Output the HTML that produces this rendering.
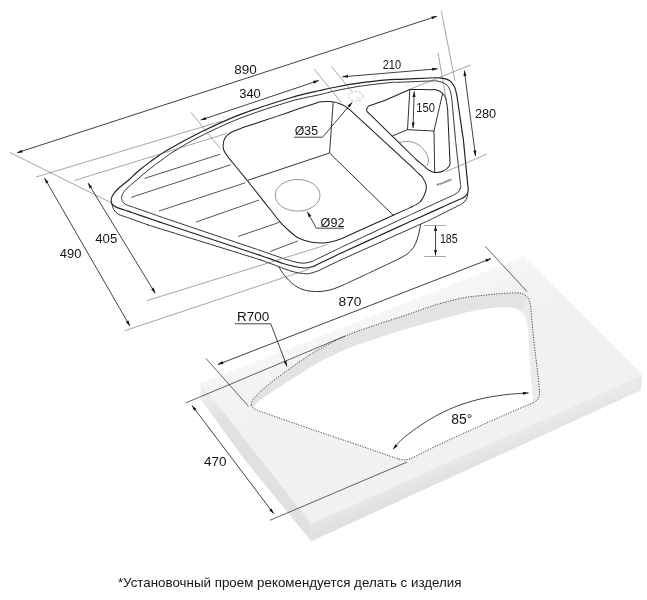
<!DOCTYPE html>
<html lang="ru">
<head>
<meta charset="utf-8">
<title>Схема мойки</title>
<style>
html,body{margin:0;padding:0;background:#fff;}
body{width:647px;height:600px;overflow:hidden;}
svg{display:block;font-family:"Liberation Sans",Arial,sans-serif;filter:grayscale(1);}
</style>
</head>
<body>
<svg width="647" height="600" viewBox="0 0 647 600">
<rect width="647" height="600" fill="#ffffff"/>
<defs>
<linearGradient id="gTop" gradientUnits="userSpaceOnUse" x1="430" y1="290" x2="455" y2="354">
<stop offset="0" stop-color="#f7f7f7"/><stop offset="0.35" stop-color="#f3f3f3"/><stop offset="1" stop-color="#f1f1f1"/>
</linearGradient>
<linearGradient id="gFront" gradientUnits="userSpaceOnUse" x1="470" y1="452" x2="477" y2="469">
<stop offset="0" stop-color="#e9e9e9"/><stop offset="1" stop-color="#e0e0e0"/>
</linearGradient>
<linearGradient id="gLeft" gradientUnits="userSpaceOnUse" x1="201" y1="386" x2="226" y2="418">
<stop offset="0" stop-color="#efefef"/><stop offset="1" stop-color="#e1e1e1"/>
</linearGradient>
</defs>
<path d="M200.6,383.1 L523.6,256.3 L642.5,375 L311.25,523.75Z" fill="url(#gTop)" stroke="none" stroke-width="1" />
<path d="M311.25,523.75 L642.5,375 L640.5,390.5 L311.25,541.25Z" fill="url(#gFront)" stroke="none" stroke-width="1" />
<path d="M200.6,383.1 L311.25,523.75 L311.25,541.25 L244.8,460 L201.2,400 L200.6,393.75Z" fill="url(#gLeft)" stroke="none" stroke-width="1" />
<path d="M251.1,404.6 C251.4,403.78 251.47,401.75 252.9,399.7 C254.33,397.65 256.5,395.32 259.7,392.3 C262.9,389.28 268.48,384.52 272.1,381.6 C275.72,378.68 278.5,376.93 281.4,374.8 C284.3,372.67 284.02,372.58 289.5,368.8 C294.98,365.02 305.02,357.57 314.3,352.1 C323.58,346.63 334.9,340.53 345.2,336 C355.5,331.47 365.67,328.48 376.1,324.9 C386.53,321.32 397.88,317.85 407.8,314.5 C417.72,311.15 426.32,307.58 435.6,304.8 C444.88,302.02 456.1,299.32 463.5,297.8 C470.9,296.28 474.17,296.37 480,295.7 C485.83,295.03 492.32,294.27 498.5,293.8 C504.68,293.33 512.77,292.75 517.1,292.9 C521.43,293.05 522.48,293.47 524.5,294.7 C526.52,295.93 528.12,297.67 529.2,300.3 C530.28,302.93 530.23,303.88 531,310.5 C531.77,317.12 532.52,328.08 533.8,340 C535.08,351.92 537.77,372.88 538.7,382 C539.63,391.12 539.58,391.75 539.4,394.7 C539.22,397.65 538.62,398.35 537.6,399.7 C536.58,401.05 537.12,401 533.3,402.8 C529.48,404.6 520.32,408.1 514.7,410.5 C509.08,412.9 505.55,414.55 499.6,417.2 C493.65,419.85 486.55,423 479,426.4 C471.45,429.8 462.47,433.83 454.3,437.6 C446.13,441.37 435.7,446.25 430,449 C424.3,451.75 423.45,452.47 420.1,454.1 C416.75,455.73 412.53,457.83 409.9,458.8 C407.27,459.77 405.23,459.72 404.3,459.9 L398,458.9 L360,445.7 L300,425.3 L260,411.3 L254,408.7 L251.6,406.5 L251.1,404.6Z" fill="#e3e3e3" stroke="none" stroke-width="1" />
<path d="M527.5,296.5 L531,310.5 L533.8,340 L538.7,382 L539.4,394.7 L537.6,399.7 L533.3,402.8 L530,398 L526,330 L521,311Z" fill="#ebebeb" stroke="none" stroke-width="1" />
<path d="M254.2,408.6 C254.23,408.17 253.85,407 254.4,406 C254.95,405 255.58,404.27 257.5,402.6 C259.42,400.93 261.42,399.15 265.9,396 C270.38,392.85 278.83,387.27 284.4,383.7 C289.97,380.13 294.32,377.72 299.3,374.6 C304.28,371.48 306.65,369.17 314.3,365 C321.95,360.83 334.9,354.02 345.2,349.6 C355.5,345.18 365.67,342 376.1,338.5 C386.53,335 397.15,331.77 407.8,328.6 C418.45,325.43 430,322.28 440,319.5 C450,316.72 460.3,313.67 467.8,311.9 C475.3,310.13 479.63,309.67 485,308.9 C490.37,308.13 494.97,307.43 500,307.3 C505.03,307.17 511.42,307.1 515.2,308.1 C518.98,309.1 520.83,311.05 522.7,313.3 C524.57,315.55 525.42,317.15 526.4,321.6 C527.38,326.05 527.8,330.05 528.6,340 C529.4,349.95 530.53,372.18 531.2,381.3 C531.87,390.42 532.25,391.12 532.6,394.7 C532.95,398.28 533.18,401.45 533.3,402.8 L533.3,402.8 C530.2,404.08 520.32,408.1 514.7,410.5 C509.08,412.9 505.55,414.55 499.6,417.2 C493.65,419.85 486.55,423 479,426.4 C471.45,429.8 462.47,433.83 454.3,437.6 C446.13,441.37 435.7,446.25 430,449 C424.3,451.75 423.45,452.47 420.1,454.1 C416.75,455.73 412.53,457.83 409.9,458.8 C407.27,459.77 406.28,459.88 404.3,459.9 C402.32,459.92 399.05,459.07 398,458.9 L398,458.9 L360,445.7 L300,425.3 L260,411.3 L254,408.7 L251.6,406.5 L251.1,404.6Z" fill="#ffffff" stroke="none" stroke-width="1" />
<path d="M251.1,404.6 C251.4,403.78 251.47,401.75 252.9,399.7 C254.33,397.65 256.5,395.32 259.7,392.3 C262.9,389.28 268.48,384.52 272.1,381.6 C275.72,378.68 278.5,376.93 281.4,374.8 C284.3,372.67 284.02,372.58 289.5,368.8 C294.98,365.02 305.02,357.57 314.3,352.1 C323.58,346.63 334.9,340.53 345.2,336 C355.5,331.47 365.67,328.48 376.1,324.9 C386.53,321.32 397.88,317.85 407.8,314.5 C417.72,311.15 426.32,307.58 435.6,304.8 C444.88,302.02 456.1,299.32 463.5,297.8 C470.9,296.28 474.17,296.37 480,295.7 C485.83,295.03 492.32,294.27 498.5,293.8 C504.68,293.33 512.77,292.75 517.1,292.9 C521.43,293.05 522.48,293.47 524.5,294.7 C526.52,295.93 528.12,297.67 529.2,300.3 C530.28,302.93 530.23,303.88 531,310.5 C531.77,317.12 532.52,328.08 533.8,340 C535.08,351.92 537.77,372.88 538.7,382 C539.63,391.12 539.58,391.75 539.4,394.7 C539.22,397.65 538.62,398.35 537.6,399.7 C536.58,401.05 534.02,402.28 533.3,402.8" fill="none" stroke="#333" stroke-width="0.9" stroke-dasharray="1.2 1.4"/>
<path d="M533.3,402.8 C530.2,404.08 520.32,408.1 514.7,410.5 C509.08,412.9 505.55,414.55 499.6,417.2 C493.65,419.85 486.55,423 479,426.4 C471.45,429.8 462.47,433.83 454.3,437.6 C446.13,441.37 435.7,446.25 430,449 C424.3,451.75 423.45,452.47 420.1,454.1 C416.75,455.73 412.53,457.83 409.9,458.8 C407.27,459.77 406.28,459.88 404.3,459.9 C402.32,459.92 399.05,459.07 398,458.9" fill="none" stroke="#333" stroke-width="0.9" stroke-dasharray="1.2 1.4"/>
<path d="M398,458.9 L360,445.7 L300,425.3 L260,411.3 L254,408.7 L251.6,406.5 L251.1,404.6" fill="none" stroke="#333" stroke-width="0.9" stroke-dasharray="1.2 1.4"/>
<path d="M278.5,266.5 C279.53,268.03 282.22,272.72 284.7,275.7 C287.18,278.68 290.52,282.13 293.4,284.4 C296.28,286.67 299.07,288.17 302,289.3 C304.93,290.43 308,290.83 311,291.2 C314,291.57 317,291.67 320,291.5 C323,291.33 326.17,290.85 329,290.2 C331.83,289.55 334.47,288.53 337,287.6 C339.53,286.67 342.25,285.45 344.2,284.6 C346.15,283.75 345.18,284.14 348.73,282.48 C352.27,280.81 361.93,276.29 365.47,274.62 C369.02,272.96 368.49,273.21 370,272.5 C371.51,271.79 372.2,271.47 374.52,270.37 C376.85,269.28 381.65,267.02 383.98,265.93 C386.3,264.83 385.26,265.39 388.5,263.8 C391.74,262.21 399.68,258.57 403.4,256.4 C407.12,254.23 408.75,252.97 410.8,250.8 C412.85,248.63 414.37,246.28 415.7,243.4 C417.03,240.52 417.97,236.68 418.8,233.5 C419.63,230.32 420.38,225.83 420.7,224.3" fill="none" stroke="#202020" stroke-width="0.92" />
<path d="M111.6,203.2 C111.98,204.28 112.73,207.85 113.9,209.7 C115.07,211.55 116.28,212.98 118.6,214.3 C120.92,215.62 125.48,216.77 127.8,217.6 C130.12,218.43 129.88,218.36 132.5,219.31 C135.12,220.25 140.88,222.35 143.5,223.29 C146.12,224.24 146.62,224.47 148.2,225 C149.78,225.53 143.66,223.59 152.98,226.48 C162.29,229.37 187.06,237.06 204.1,242.35 C221.14,247.64 245.91,255.33 255.22,258.22 C264.54,261.11 258.42,259.17 260,259.7 C261.58,260.23 262.39,260.58 264.69,261.42 C266.99,262.27 271.51,263.93 273.81,264.78 C276.11,265.62 275.47,265.4 278.5,266.5 C281.53,267.6 287.87,270.23 292,271.4 C296.13,272.57 300.4,273.15 303.3,273.5 C306.2,273.85 306.93,273.95 309.4,273.5 C311.87,273.05 315.9,271.61 318.1,270.8 C320.3,269.99 319.71,270.03 322.61,268.64 C325.51,267.25 332.59,263.85 335.49,262.46 C338.39,261.07 338.49,261 340,260.3 C341.51,259.6 337.08,261.61 344.56,258.25 C352.05,254.89 371.45,246.18 384.9,240.15 C398.35,234.12 417.75,225.41 425.24,222.05 C432.72,218.69 428.29,220.71 429.8,220 C431.31,219.29 429.66,220.07 434.27,217.76 C438.87,215.45 452.83,208.45 457.43,206.14 C462.04,203.83 460.44,204.99 461.9,203.9 C463.36,202.81 465.22,201.35 466.2,199.6 C467.18,197.85 467.53,194.43 467.8,193.4" fill="none" stroke="#202020" stroke-width="0.92" />
<path d="M111.1,200.4 C111.18,198.77 111.75,196.82 113,194.8 C114.25,192.78 115.97,190.77 118.6,188.3 C121.23,185.83 125.73,182.68 128.8,180 C131.87,177.32 133.57,175.13 137,172.2 C140.43,169.27 144.45,166 149.4,162.4 C154.35,158.8 158.27,155.58 166.7,150.6 C175.13,145.62 187.78,138.5 200,132.5 C212.22,126.5 225,120.35 240,114.6 C255,108.85 276.67,102.02 290,98 C303.33,93.98 312.5,92.3 320,90.5 C327.5,88.7 328.33,88.47 335,87.2 C341.67,85.93 350.83,84.15 360,82.9 C369.17,81.65 383.33,80.3 390,79.7 C396.67,79.1 393.33,79.58 400,79.3 C406.67,79.02 423.4,78.23 430,78 C436.6,77.77 436.37,77.5 439.6,77.9 C442.83,78.3 446.93,78.95 449.4,80.4 C451.87,81.85 453.15,84.03 454.4,86.6 C455.65,89.17 456.36,93.44 456.9,95.8 C457.44,98.16 457.09,97.06 457.63,100.75 C458.17,104.43 459.31,112.18 460.15,117.9 C460.99,123.62 462.13,131.37 462.67,135.05 C463.21,138.74 463.2,138.35 463.4,140 C463.6,141.65 463.49,140.94 463.88,144.98 C464.27,149.01 465.13,157.79 465.75,164.2 C466.37,170.61 467.23,179.39 467.62,183.42 C468.01,187.46 468.12,186.74 468.1,188.4 C468.08,190.06 468.32,191.85 467.5,193.4 C466.68,194.95 464.68,196.64 463.2,197.7 C461.72,198.76 462.77,197.9 458.64,199.75 C454.52,201.61 445.18,205.82 438.45,208.85 C431.72,211.88 422.38,216.09 418.26,217.95 C414.13,219.8 415.22,219.31 413.7,220 C412.18,220.69 415.29,219.28 409.15,222.07 C403.01,224.86 387.62,231.86 376.85,236.75 C366.08,241.64 350.69,248.64 344.55,251.43 C338.41,254.22 341.51,252.79 340,253.5 C338.49,254.21 339.22,253.88 335.5,255.68 C331.78,257.49 321.42,262.51 317.7,264.32 C313.98,266.12 315.2,265.89 313.2,266.5 C311.2,267.11 308.4,267.92 305.7,268 C303,268.08 300.5,267.67 297,267 C293.5,266.33 287.54,264.78 284.7,264 C281.86,263.22 283.31,263.51 279.98,262.34 C276.65,261.17 268.05,258.13 264.72,256.96 C261.39,255.79 261.58,255.84 260,255.3 C258.42,254.76 263.59,256.49 255.25,253.73 C246.92,250.97 225.08,243.74 210,238.75 C194.92,233.76 173.08,226.53 164.75,223.77 C156.41,221.01 161.58,222.73 160,222.2 C158.42,221.67 159.85,222.15 155.27,220.57 C150.69,218.99 137.11,214.31 132.53,212.73 C127.95,211.15 130.44,211.99 127.8,211.1 C125.16,210.21 119.25,208.48 116.7,207.4 C114.15,206.32 113.43,205.77 112.5,204.6 C111.57,203.43 111.02,202.03 111.1,200.4Z" fill="#ffffff" stroke="#202020" stroke-width="1.17" />
<path d="M121.8,199.5 C121.35,197.95 121.6,196.5 122.3,194.8 C123,193.1 123.62,191.77 126,189.3 C128.38,186.83 132.7,183.35 136.6,180 C140.5,176.65 145.2,172.55 149.4,169.2 C153.6,165.85 157.67,162.9 161.8,159.9 C165.93,156.9 167.83,155.1 174.2,151.2 C180.57,147.3 189.03,141.98 200,136.5 C210.97,131.02 225,124.13 240,118.3 C255,112.47 276.67,105.45 290,101.5 C303.33,97.55 312.5,96.37 320,94.6 C327.5,92.83 328.33,92.3 335,90.9 C341.67,89.5 350.83,87.58 360,86.2 C369.17,84.82 383.33,83.27 390,82.6 C396.67,81.93 393.33,82.47 400,82.2 C406.67,81.93 423.83,81.2 430,81 C436.17,80.8 434.38,80.48 437,81 C439.62,81.52 443.53,82.55 445.7,84.1 C447.87,85.65 448.97,87.72 450,90.3 C451.03,92.88 451.51,97.22 451.9,99.6 C452.29,101.98 452.04,101.21 452.34,104.58 C452.64,107.95 453.25,114.73 453.7,119.8 C454.15,124.87 454.76,131.65 455.06,135.02 C455.36,138.39 455.33,138.34 455.5,140 C455.67,141.66 455.62,141.09 456.05,144.97 C456.49,148.85 457.42,157.19 458.1,163.3 C458.78,169.41 459.71,177.75 460.15,181.63 C460.58,185.51 460.92,184.96 460.7,186.6 C460.48,188.24 459.83,190.17 458.8,191.5 C457.77,192.83 455.97,193.74 454.5,194.6 C453.03,195.46 453.66,194.98 449.95,196.68 C446.25,198.38 438.15,202.09 432.25,204.8 C426.35,207.51 418.25,211.22 414.55,212.92 C410.84,214.62 411.51,214.3 410,215 C408.49,215.7 411.31,214.39 405.47,217.13 C399.64,219.87 385.16,226.68 375,231.45 C364.84,236.22 350.36,243.03 344.53,245.77 C338.69,248.51 341.5,247.18 340,247.9 C338.5,248.62 339.42,248.18 335.5,250.08 C331.59,251.99 320.41,257.41 316.5,259.32 C312.58,261.22 314,260.87 312,261.5 C310,262.13 307,262.95 304.5,263.1 C302,263.25 300.3,263.08 297,262.4 C293.7,261.72 287.54,259.84 284.7,259 C281.86,258.16 283.31,258.52 279.98,257.36 C276.65,256.2 268.05,253.2 264.72,252.04 C261.39,250.88 261.58,250.94 260,250.4 C258.42,249.86 263.6,251.62 255.26,248.8 C246.93,245.98 225.09,238.6 210,233.5 C194.91,228.4 173.07,221.02 164.74,218.2 C156.4,215.38 161.58,217.14 160,216.6 C158.42,216.06 159.08,216.28 155.28,214.94 C151.49,213.6 141.01,209.9 137.22,208.56 C133.42,207.22 134.54,207.64 132.5,206.9 C130.46,206.16 126.78,205.33 125,204.1 C123.22,202.87 122.25,201.05 121.8,199.5Z" fill="none" stroke="#202020" stroke-width="0.92" />
<line x1="144.5" y1="178.4" x2="220" y2="154.3" stroke="#2a2a2a" stroke-width="0.8" />
<line x1="131.1" y1="197.4" x2="230.5" y2="164.8" stroke="#2a2a2a" stroke-width="0.8" />
<line x1="159" y1="211" x2="245.3" y2="182.8" stroke="#2a2a2a" stroke-width="0.8" />
<line x1="196" y1="222" x2="258.9" y2="200.1" stroke="#2a2a2a" stroke-width="0.8" />
<line x1="238" y1="236.5" x2="279.2" y2="222.4" stroke="#2a2a2a" stroke-width="0.8" />
<line x1="270.1" y1="251.5" x2="297.9" y2="240.9" stroke="#2a2a2a" stroke-width="0.8" />
<path d="M275.26,116.88 C271.05,118.28 258.95,122.32 254.74,123.72 C250.53,125.12 252.46,124.47 250,125.3 C247.54,126.13 243,127.58 240,128.7 C237,129.82 234,131.02 232,132 C230,132.98 229.25,133.43 228,134.6 C226.75,135.77 225.3,137.35 224.5,139 C223.7,140.65 223.33,142.67 223.2,144.5 C223.07,146.33 223,148.05 223.7,150 C224.4,151.95 226.26,154.52 227.4,156.2 C228.54,157.88 227.81,156.7 230.56,160.07 C233.32,163.44 241.18,173.06 243.94,176.43 C246.69,179.8 246.06,179 247.1,180.3 C248.14,181.6 246.8,179.92 250.2,184.22 C253.6,188.52 264.1,201.78 267.5,206.08 C270.9,210.38 268.6,207.46 270.6,210 C272.6,212.54 276.38,217.8 279.5,221.3 C282.62,224.8 286.38,228.35 289.3,231 C292.22,233.65 294.38,235.6 297,237.2 C299.62,238.8 302.5,239.75 305,240.6 C307.5,241.45 309.2,241.9 312,242.3 C314.8,242.7 318.52,243.1 321.8,243 C325.08,242.9 328.67,242.32 331.7,241.7 C334.73,241.08 337.86,240.04 340,239.3 C342.14,238.56 338.72,239.88 344.55,237.24 C350.39,234.6 364.85,228.05 375,223.45 C385.15,218.85 399.61,212.3 405.45,209.66 C411.28,207.02 407.59,208.88 410,207.6 C412.41,206.32 417.32,204.6 419.9,202 C422.48,199.4 424.48,194.88 425.5,192 C426.52,189.12 426.52,187.15 426,184.7 C425.48,182.25 423.6,179.12 422.4,177.3 C421.2,175.48 420.29,175.24 418.82,173.81 C417.35,172.37 415.05,170.13 413.58,168.69 C412.11,167.26 411.21,166.35 410,165.2 C408.79,164.05 411.32,166.42 406.32,161.81 C401.32,157.2 388.77,145.64 380,137.55 C371.23,129.46 358.68,117.9 353.68,113.29 C348.68,108.68 351.61,111.18 350,109.9 C348.39,108.62 345.78,106.65 344,105.6 C342.22,104.55 340.97,104.22 339.3,103.6 C337.63,102.98 335.65,102.27 334,101.9 C332.35,101.53 331.6,101.43 329.4,101.4 C327.2,101.37 323.03,101.4 320.8,101.7 C318.57,102 317.91,102.6 316.02,103.18 C314.14,103.77 311.36,104.63 309.48,105.22 C307.59,105.8 306.28,106.18 304.7,106.7 C303.12,107.22 303.31,107.18 299.98,108.34 C296.65,109.5 288.05,112.5 284.72,113.66 C281.39,114.82 281.58,114.76 280,115.3 C278.42,115.84 279.47,115.48 275.26,116.88Z" fill="none" stroke="#202020" stroke-width="1.02" />
<line x1="333.2" y1="102.4" x2="329.5" y2="153" stroke="#202020" stroke-width="0.92" />
<line x1="329.5" y1="153" x2="247.8" y2="180.3" stroke="#202020" stroke-width="0.92" />
<line x1="329.5" y1="153" x2="394" y2="216" stroke="#202020" stroke-width="0.92" />
<ellipse cx="297.6" cy="195.3" rx="22.4" ry="15.8" fill="none" stroke="#707070" stroke-width="0.75"/>
<path d="M366.7,109.3 C366.9,108.38 367.42,107 368.5,106.2 C369.58,105.4 371.11,105.27 373.21,104.51 C375.31,103.76 378.99,102.44 381.09,101.69 C383.19,100.93 384.25,100.62 385.8,100 C387.35,99.38 387.14,99.41 390.37,97.98 C393.61,96.55 401.99,92.85 405.23,91.42 C408.46,89.99 409.04,89.74 409.8,89.4 C410.56,89.06 409.8,89.4 409.8,89.4 C409.8,89.4 408.97,89.39 409.8,89.4 C410.63,89.41 411.3,89.42 414.8,89.46 C418.3,89.5 427.3,89.6 430.8,89.64 C434.3,89.68 433.93,89.17 435.8,89.7 C437.67,90.23 440.35,91.37 442,92.8 C443.65,94.23 444.77,95.53 445.7,98.3 C446.63,101.07 447.25,106.72 447.6,109.4 C447.95,112.08 447.63,110.01 447.83,114.39 C448.03,118.78 448.48,128.6 448.8,135.7 C449.12,142.8 449.57,152.62 449.77,157.01 C449.97,161.39 450.08,160.5 450,162 C449.92,163.5 450.4,164.5 449.3,166 C448.2,167.5 445.83,169.93 443.4,171 C440.97,172.07 437.18,172.58 434.7,172.4 C432.22,172.22 430.17,170.85 428.5,169.9 C426.83,168.95 426,167.8 424.67,166.69 C423.34,165.57 421.86,164.33 420.53,163.21 C419.2,162.1 417.93,161.12 416.7,160 C415.47,158.88 417.24,160.53 413.12,156.5 C409.01,152.48 399.04,142.73 392,135.85 C384.96,128.97 374.99,119.22 370.88,115.2 C366.76,111.17 368,112.68 367.3,111.7 C366.6,110.72 366.5,110.22 366.7,109.3Z" fill="none" stroke="#202020" stroke-width="1.02" />
<line x1="409.8" y1="89.6" x2="407.5" y2="129.7" stroke="#202020" stroke-width="0.92" />
<line x1="442.6" y1="93.4" x2="434" y2="131" stroke="#202020" stroke-width="0.92" />
<path d="M392.6,135.8 L407.5,129.7 L434,131 L434.7,172.4" fill="none" stroke="#202020" stroke-width="0.92" stroke-linejoin="round"/>
<path d="M400,142.6 C401.35,142.4 405.1,141.08 408.1,141.4 C411.1,141.72 415.12,142.75 418,144.5 C420.88,146.25 423.65,149.32 425.4,151.9 C427.15,154.48 428.27,157.68 428.5,160 C428.73,162.32 427.08,164.83 426.8,165.8" fill="none" stroke="#707070" stroke-width="0.75" />
<ellipse cx="355.7" cy="96.2" rx="7.2" ry="4.7" fill="none" stroke="#a0a0a0" stroke-width="0.7" stroke-dasharray="2.4 1.5"/>
<text x="444.2" y="183.2" font-size="2.8" text-anchor="middle" fill="#222" transform="rotate(-21 444.2 182.3)" font-weight="bold">PAULMARK</text>
<line x1="10" y1="152.5" x2="110.5" y2="202.5" stroke="#6a6a6a" stroke-width="0.6" />
<line x1="36" y1="177" x2="222" y2="121" stroke="#6a6a6a" stroke-width="0.6" />
<line x1="74.5" y1="180.5" x2="226.9" y2="133.4" stroke="#6a6a6a" stroke-width="0.6" />
<line x1="191" y1="112.4" x2="220" y2="148.2" stroke="#6a6a6a" stroke-width="0.6" />
<line x1="314.3" y1="69.3" x2="341.5" y2="102.6" stroke="#6a6a6a" stroke-width="0.6" />
<line x1="331.6" y1="66.8" x2="352" y2="91.5" stroke="#6a6a6a" stroke-width="0.6" />
<line x1="356.5" y1="97" x2="362" y2="103.3" stroke="#a0a0a0" stroke-width="0.6" stroke-dasharray="2.4 1.5"/>
<line x1="441.3" y1="11" x2="455" y2="81" stroke="#6a6a6a" stroke-width="0.6" />
<line x1="438" y1="53" x2="446.4" y2="100" stroke="#6a6a6a" stroke-width="0.6" />
<line x1="470.5" y1="65" x2="410.5" y2="89" stroke="#6a6a6a" stroke-width="0.6" />
<line x1="487" y1="154" x2="445.8" y2="171.7" stroke="#6a6a6a" stroke-width="0.6" />
<line x1="424.4" y1="225.5" x2="446" y2="225.5" stroke="#6a6a6a" stroke-width="0.6" />
<line x1="424.4" y1="256.5" x2="446" y2="256.5" stroke="#6a6a6a" stroke-width="0.6" />
<line x1="147" y1="300.6" x2="327.4" y2="244.6" stroke="#6a6a6a" stroke-width="0.6" />
<line x1="124.5" y1="330.8" x2="309.4" y2="269" stroke="#6a6a6a" stroke-width="0.6" />
<line x1="17" y1="152.8" x2="437" y2="16.2" stroke="#111" stroke-width="0.8" />
<polygon points="17,152.8 21.77,149.67 22.69,152.53" fill="#111"/>
<polygon points="437,16.2 432.23,19.33 431.31,16.47" fill="#111"/>
<line x1="200.7" y1="120.1" x2="318.75" y2="80.5" stroke="#111" stroke-width="0.8" />
<polygon points="200.7,120.1 205.44,116.93 206.39,119.77" fill="#111"/>
<polygon points="318.75,80.5 314.01,83.67 313.06,80.83" fill="#111"/>
<line x1="342.4" y1="76.8" x2="437.7" y2="68.8" stroke="#111" stroke-width="0.8" />
<polygon points="342.4,76.8 347.76,74.85 348.01,77.83" fill="#111"/>
<polygon points="437.7,68.8 432.34,70.75 432.09,67.77" fill="#111"/>
<line x1="464.3" y1="70.5" x2="475.5" y2="156" stroke="#111" stroke-width="0.8" />
<polygon points="464.3,70.5 466.5,75.76 463.53,76.15" fill="#111"/>
<polygon points="475.5,156 473.3,150.74 476.27,150.35" fill="#111"/>
<line x1="414.2" y1="91.5" x2="413" y2="128" stroke="#111" stroke-width="0.8" />
<polygon points="414.2,91.5 415.52,97.05 412.52,96.95" fill="#111"/>
<polygon points="413,128 411.68,122.45 414.68,122.55" fill="#111"/>
<line x1="435.5" y1="225.6" x2="435.5" y2="255.6" stroke="#111" stroke-width="0.8" />
<polygon points="435.5,225.6 437,231.1 434,231.1" fill="#111"/>
<polygon points="435.5,255.6 434,250.1 437,250.1" fill="#111"/>
<line x1="44.5" y1="178" x2="129.9" y2="326" stroke="#111" stroke-width="0.8" />
<polygon points="44.5,178 48.55,182.01 45.95,183.51" fill="#111"/>
<polygon points="129.9,326 125.85,321.99 128.45,320.49" fill="#111"/>
<line x1="88" y1="183" x2="155.3" y2="293.3" stroke="#111" stroke-width="0.8" />
<polygon points="88,183 92.15,186.91 89.58,188.48" fill="#111"/>
<polygon points="155.3,293.3 151.15,289.39 153.72,287.82" fill="#111"/>
<line x1="217.8" y1="364.5" x2="491" y2="258.6" stroke="#111" stroke-width="0.8" />
<polygon points="217.8,364.5 222.39,361.11 223.47,363.91" fill="#111"/>
<polygon points="491,258.6 486.41,261.99 485.33,259.19" fill="#111"/>
<line x1="192" y1="405.5" x2="273.75" y2="513.75" stroke="#111" stroke-width="0.8" />
<polygon points="192,405.5 196.51,408.99 194.12,410.79" fill="#111"/>
<polygon points="273.75,513.75 269.24,510.26 271.63,508.46" fill="#111"/>
<line x1="206" y1="358.5" x2="248.7" y2="406.5" stroke="#222" stroke-width="0.7" />
<line x1="485.4" y1="246.5" x2="527" y2="291.5" stroke="#222" stroke-width="0.7" />
<line x1="185.5" y1="403" x2="345.2" y2="336" stroke="#222" stroke-width="0.7" />
<line x1="270" y1="520.3" x2="407.1" y2="462" stroke="#222" stroke-width="0.7" />
<path d="M392.9,449.3 C394.88,447.23 398.7,441.85 404.8,436.9 C410.9,431.95 421.25,424.55 429.5,419.6 C437.75,414.65 446.05,410.58 454.3,407.2 C462.55,403.82 470.75,401.35 479,399.3 C487.25,397.25 495.55,395.97 503.8,394.9 C512.05,393.83 524.38,393.23 528.5,392.9" fill="none" stroke="#111" stroke-width="0.8" />
<polygon points="392.9,449.3 395.47,444.21 397.7,446.22" fill="#111"/>
<polygon points="528.5,392.9 523.12,394.78 522.91,391.79" fill="#111"/>
<path d="M294.2,137.2 L322.6,137.2 L352.3,102.2" fill="none" stroke="#111" stroke-width="0.8" />
<polygon points="352.3,102.2 349.89,107.36 347.6,105.42" fill="#111"/>
<path d="M343.8,228.2 L316.3,228.2 L307.3,211.7" fill="none" stroke="#111" stroke-width="0.8" />
<polygon points="307.3,211.7 311.25,215.81 308.62,217.25" fill="#111"/>
<path d="M234.8,323.8 L270.8,323.8 L287,366.4" fill="none" stroke="#111" stroke-width="0.8" />
<polygon points="287,366.4 283.64,361.79 286.45,360.73" fill="#111"/>
<text x="234.3" y="73.7" font-size="12" textLength="22.5" lengthAdjust="spacingAndGlyphs" fill="#151515">890</text>
<text x="239.2" y="98.2" font-size="12" textLength="21.6" lengthAdjust="spacingAndGlyphs" fill="#151515">340</text>
<text x="382.7" y="68.5" font-size="12" textLength="18.3" lengthAdjust="spacingAndGlyphs" fill="#151515">210</text>
<text x="474.9" y="117.5" font-size="12" textLength="21.3" lengthAdjust="spacingAndGlyphs" fill="#151515">280</text>
<text x="416.2" y="112.4" font-size="12" textLength="18.7" lengthAdjust="spacingAndGlyphs" fill="#151515">150</text>
<text x="439.9" y="243.3" font-size="12" textLength="17.8" lengthAdjust="spacingAndGlyphs" fill="#151515">185</text>
<text x="59.8" y="257.5" font-size="12" textLength="21.6" lengthAdjust="spacingAndGlyphs" fill="#151515">490</text>
<text x="95.2" y="243.2" font-size="12" textLength="22.1" lengthAdjust="spacingAndGlyphs" fill="#151515">405</text>
<text x="338.5" y="306" font-size="12" textLength="22.9" lengthAdjust="spacingAndGlyphs" fill="#151515">870</text>
<text x="203.95" y="465.5" font-size="12" textLength="22.6" lengthAdjust="spacingAndGlyphs" fill="#151515">470</text>
<text x="451.3" y="424" font-size="13.8" textLength="21" lengthAdjust="spacingAndGlyphs" fill="#151515">85°</text>
<text x="294.8" y="135.1" font-size="12" textLength="23.2" lengthAdjust="spacingAndGlyphs" fill="#151515">Ø35</text>
<text x="320.6" y="226.6" font-size="12" textLength="23.8" lengthAdjust="spacingAndGlyphs" fill="#151515">Ø92</text>
<text x="237" y="320.8" font-size="12" textLength="32.3" lengthAdjust="spacingAndGlyphs" fill="#151515">R700</text>
<text x="117.9" y="587" font-size="13.3" textLength="343.6" lengthAdjust="spacingAndGlyphs" fill="#151515">*Установочный проем рекомендуется делать с изделия</text>
</svg>
</body>
</html>
